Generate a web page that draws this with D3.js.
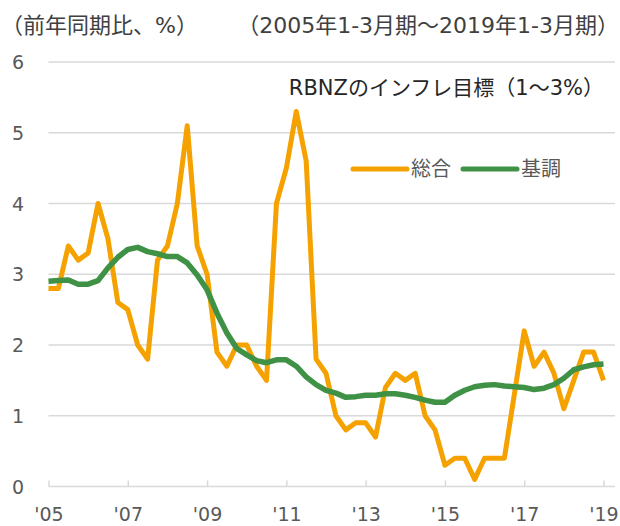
<!DOCTYPE html>
<html>
<head>
<meta charset="utf-8">
<script src="https://cdn.jsdelivr.net/npm/d3@7"></script>
<style>
  body { margin: 0; background: #fff; }
  text { font-family: "DejaVu Sans", "Noto Sans CJK JP", sans-serif; }
</style>
</head>
<body>
<script>
// 2005Q1 .. 2019Q1, quarterly
var years = ["05","06","07","08","09","10","11","12","13","14","15","16","17","18","19"];
var quarters = [];
years.forEach(function(y) {
  ["Q1","Q2","Q3","Q4"].forEach(function(q) { quarters.push(y + q); });
});
quarters = quarters.slice(0, 57);

// 総合 (headline CPI, y/y %)
var headline = [2.8, 2.8, 3.4, 3.2, 3.3, 4.0, 3.5, 2.6, 2.5, 2.0, 1.8, 3.2,
  3.4, 4.0, 5.1, 3.4, 3.0, 1.9, 1.7, 2.0, 2.0, 1.7, 1.5, 4.0,
  4.5, 5.3, 4.6, 1.8, 1.6, 1.0, 0.8, 0.9, 0.9, 0.7, 1.4, 1.6,
  1.5, 1.6, 1.0, 0.8, 0.3, 0.4, 0.4, 0.1, 0.4, 0.4, 0.4, 1.3,
  2.2, 1.7, 1.9, 1.6, 1.1, 1.5, 1.9, 1.9, 1.5];

// 基調 (core)
var core = [2.90, 2.91, 2.92, 2.86, 2.86, 2.91, 3.09, 3.24, 3.35, 3.38, 3.32, 3.29,
  3.25, 3.25, 3.16, 2.99, 2.78, 2.45, 2.17, 1.95, 1.86, 1.78, 1.75, 1.79,
  1.79, 1.70, 1.55, 1.44, 1.36, 1.32, 1.26, 1.27, 1.29, 1.29, 1.31, 1.31,
  1.29, 1.26, 1.22, 1.19, 1.19, 1.29, 1.36, 1.41, 1.43, 1.44, 1.42, 1.41,
  1.40, 1.37, 1.39, 1.44, 1.53, 1.65, 1.69, 1.72, 1.73];

var yTicks = [0, 1, 2, 3, 4, 5, 6];
var xTickLabels = ["'05", "'07", "'09", "'11", "'13", "'15", "'17", "'19"];

var svgWidth = 620, svgHeight = 526;
var plotLeft = 48.5, plotRight = 615, plotTop = 62, plotBottom = 486.5;

var svg = d3.select("body").append("svg")
  .attr("width", svgWidth).attr("height", svgHeight);

var x = d3.scaleLinear().domain([0, quarters.length - 1]).range([plotLeft, 603.5]);
var y = d3.scaleLinear().domain([0, 6]).range([plotBottom, plotTop]);

// gridlines
svg.append("g").selectAll("line")
  .data(yTicks.filter(function(d) { return d > 0; }))
  .enter().append("line")
  .attr("x1", plotLeft).attr("x2", plotRight)
  .attr("y1", function(d) { return y(d); })
  .attr("y2", function(d) { return y(d); })
  .attr("stroke", "#d9d9d9").attr("stroke-width", 1.5);

// y labels
svg.append("g").selectAll("text")
  .data(yTicks)
  .enter().append("text")
  .attr("x", 18).attr("y", function(d) { return y(d) + 7; })
  .attr("text-anchor", "middle")
  .attr("font-size", 19).attr("fill", "#595959")
  .text(function(d) { return d; });

// x axis
var tickIdx = xTickLabels.map(function(d, i) { return i * 8; });
var xAxis = d3.axisBottom(x)
  .tickValues(tickIdx)
  .tickSizeInner(-6).tickSizeOuter(0)
  .tickPadding(21)
  .tickFormat(function(d, i) { return xTickLabels[i]; });

var gx = svg.append("g")
  .attr("transform", "translate(0," + plotBottom + ")")
  .call(xAxis);
gx.select(".domain").remove();
gx.append("line")
  .attr("x1", plotLeft).attr("x2", plotRight)
  .attr("stroke", "#d9d9d9").attr("stroke-width", 1.5);
gx.selectAll(".tick line").attr("stroke", "#d9d9d9").attr("stroke-width", 1.5);
gx.selectAll(".tick text")
  .attr("font-size", 19).attr("fill", "#595959")
  .style("font-family", "'DejaVu Sans', sans-serif");

// lines
var line = d3.line()
  .x(function(d, i) { return x(i); })
  .y(function(d) { return y(d); });

svg.append("path").datum(headline)
  .attr("d", line).attr("fill", "none")
  .attr("stroke", "#F5A200").attr("stroke-width", 5)
  .attr("stroke-linejoin", "round");

svg.append("path").datum(core)
  .attr("d", line).attr("fill", "none")
  .attr("stroke", "#3F9146").attr("stroke-width", 5.5)
  .attr("stroke-linejoin", "round");

// titles
svg.append("text").attr("x", 1).attr("y", 33)
  .attr("font-size", 22).attr("fill", "#404040")
  .text("（前年同期比、%）");
svg.append("text").attr("x", 619).attr("y", 33)
  .attr("text-anchor", "end")
  .attr("font-size", 22).attr("fill", "#404040")
  .text("（2005年1-3月期～2019年1-3月期）");
svg.append("text").attr("x", 604).attr("y", 95)
  .attr("text-anchor", "end")
  .attr("font-size", 21).attr("fill", "#262626")
  .text("RBNZのインフレ目標（1～3%）");

// legend
var legend = [
  {name: "総合", color: "#F5A200", x: 353},
  {name: "基調", color: "#3F9146", x: 463}
];
var lg = svg.append("g").selectAll("g").data(legend).enter().append("g");
lg.append("line")
  .attr("x1", function(d) { return d.x; })
  .attr("x2", function(d) { return d.x + 54; })
  .attr("y1", 169).attr("y2", 169)
  .attr("stroke", function(d) { return d.color; })
  .attr("stroke-width", 5).attr("stroke-linecap", "round");
lg.append("text")
  .attr("x", function(d) { return d.x + 58; })
  .attr("y", 176)
  .attr("font-size", 20).attr("fill", "#595959")
  .text(function(d) { return d.name; });
</script>
</body>
</html>
